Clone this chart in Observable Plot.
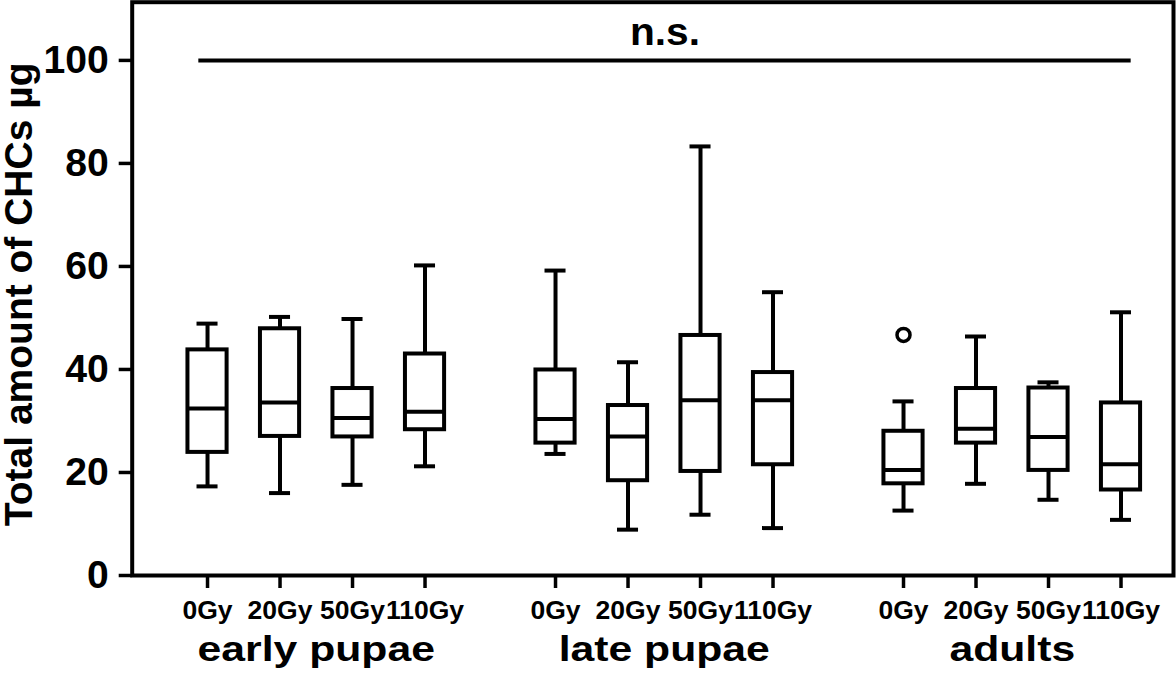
<!DOCTYPE html>
<html>
<head>
<meta charset="utf-8">
<script src="https://cdn.jsdelivr.net/npm/d3@7"></script>
<script src="https://cdn.jsdelivr.net/npm/@observablehq/plot@0.6"></script>
<style>
  html, body { margin: 0; padding: 0; background: white; }
  #chart svg { display: block; }
</style>
</head>
<body>
<div id="chart"></div>
<script>
// ---- data ----
const groups = ["early pupae", "late pupae", "adults"];
const doses = ["0Gy", "20Gy", "50Gy", "110Gy"];

// per group, per dose (early pupae 0/20/50/110, late pupae ..., adults ...)
const whiskerLow  = [17.3, 16.0, 17.6, 21.2,   23.6,  8.9, 11.8,  9.2,   12.6, 17.8, 14.7, 10.8];
const quartile1   = [23.9, 27.0, 26.9, 28.3,   25.7, 18.4, 20.2, 21.5,   17.8, 25.7, 20.4, 16.6];
const medianVal   = [32.4, 33.6, 30.6, 31.8,   30.4, 27.0, 34.0, 34.0,   20.5, 28.5, 26.9, 21.6];
const quartile3   = [43.8, 47.9, 36.3, 43.0,   39.9, 33.0, 46.6, 39.4,   28.0, 36.3, 36.4, 33.5];
const whiskerHigh = [48.9, 50.2, 49.8, 60.2,   59.2, 41.4, 83.3, 55.0,   33.8, 46.4, 37.5, 51.1];

const outlierGroup = ["adults"];
const outlierDose = ["0Gy"];
const outlierValue = [46.7];

const yTicks = [0, 20, 40, 60, 80, 100];
const yLabel = "Total amount of CHCs µg";
const sigLabel = "n.s.";
const sigValue = 100;

// ---- layout helpers (position on a linear x scale) ----
const groupStep = 4.8;   // distance between the first boxes of consecutive groups
const boxHalf = 0.27;
const capHalf = 0.145;
const pos = (g, d) => g * groupStep + d;

const boxes = [];
groups.forEach((g, gi) => doses.forEach((d, di) => {
  const k = gi * doses.length + di;
  boxes.push({
    group: g, dose: d, x: pos(gi, di),
    lo: whiskerLow[k], q1: quartile1[k], med: medianVal[k], q3: quartile3[k], hi: whiskerHigh[k]
  });
}));
const outliers = outlierValue.map((v, i) => ({
  x: pos(groups.indexOf(outlierGroup[i]), doses.indexOf(outlierDose[i])), value: v
}));
const tickPos = boxes.map(b => b.x);
const groupCenters = groups.map((g, gi) => ({name: g, x: pos(gi, (doses.length - 1) / 2)}));
const nsFrom = pos(0, 0) - 0.12;
const nsTo = pos(groups.length - 1, doses.length - 1) + 0.14;

const chart = Plot.plot({
  width: 1176,
  height: 679,
  marginLeft: 131.7,
  marginRight: 3,
  marginTop: 1.7,
  marginBottom: 104,
  style: {
    fontFamily: "'Liberation Sans', Arial, Helvetica, sans-serif",
    fontWeight: "bold",
    color: "black",
    background: "white",
    overflow: "visible"
  },
  x: {domain: [-1.039, 13.324], axis: null},
  y: {domain: [0, 111.3], axis: null},
  marks: [
    Plot.axisY({ticks: yTicks, tickSize: 13, tickPadding: 10.5, fontSize: 38, strokeWidth: 3.5, label: null}),
    Plot.axisX({ticks: tickPos, tickFormat: () => "", tickSize: 13, strokeWidth: 3.5, label: null}),
    // dose labels under the ticks
    Plot.text(boxes, {x: "x", text: "dose", frameAnchor: "bottom", dy: 25, lineAnchor: "top", fontSize: 26}),
    // whiskers
    Plot.ruleX(boxes, {x: "x", y1: "lo", y2: "q1", stroke: "black", strokeWidth: 4}),
    Plot.ruleX(boxes, {x: "x", y1: "q3", y2: "hi", stroke: "black", strokeWidth: 4}),
    // caps
    Plot.ruleY(boxes, {y: "lo", x1: d => d.x - capHalf, x2: d => d.x + capHalf, stroke: "black", strokeWidth: 4}),
    Plot.ruleY(boxes, {y: "hi", x1: d => d.x - capHalf, x2: d => d.x + capHalf, stroke: "black", strokeWidth: 4}),
    // boxes
    Plot.rect(boxes, {x1: d => d.x - boxHalf, x2: d => d.x + boxHalf, y1: "q1", y2: "q3", fill: "white", stroke: "black", strokeWidth: 4}),
    // medians
    Plot.ruleY(boxes, {y: "med", x1: d => d.x - boxHalf, x2: d => d.x + boxHalf, stroke: "black", strokeWidth: 4}),
    // outliers
    Plot.dot(outliers, {x: "x", y: "value", r: 6.5, fill: "white", stroke: "black", strokeWidth: 3.5}),
    // significance bar
    Plot.ruleY([sigValue], {x1: nsFrom, x2: nsTo, stroke: "black", strokeWidth: 4}),
    Plot.text([sigLabel], {x: (nsFrom + nsTo) / 2, y: sigValue, text: d => d, dy: -15, lineAnchor: "bottom", fontSize: 38}),
    // group labels
    Plot.text(groupCenters, {x: "x", text: "name", frameAnchor: "bottom", dy: 85, lineAnchor: "bottom", fontSize: 35}),
    // y label
    Plot.text([yLabel], {text: d => d, frameAnchor: "left", rotate: -90, lineAnchor: "top", textAnchor: "middle", fontSize: 39, dx: -128, dy: 5.5}),
    Plot.frame({stroke: "black", strokeWidth: 4})
  ]
});

document.getElementById("chart").appendChild(chart);

// the reference's lettering is slightly wider than Arial: stretch the glyphs horizontally
const stretchFactor = new Map();
doses.forEach(d => stretchFactor.set(d, 1.02));
groups.forEach(g => stretchFactor.set(g, 1.22));
stretchFactor.set(sigLabel, 1.07);
yTicks.forEach(t => stretchFactor.set(String(t), 1.03));
chart.querySelectorAll("text").forEach(t => {
  const f = stretchFactor.get((t.textContent || "").trim());
  if (!f) return;
  let w = 0;
  try { w = t.getComputedTextLength(); } catch (e) { w = 0; }
  if (!(w > 0)) { try { w = t.getBBox().width; } catch (e) { w = 0; } }
  if (w > 0) {
    t.setAttribute("textLength", (w * f).toFixed(2));
    t.setAttribute("lengthAdjust", "spacingAndGlyphs");
  }
});
</script>
</body>
</html>
